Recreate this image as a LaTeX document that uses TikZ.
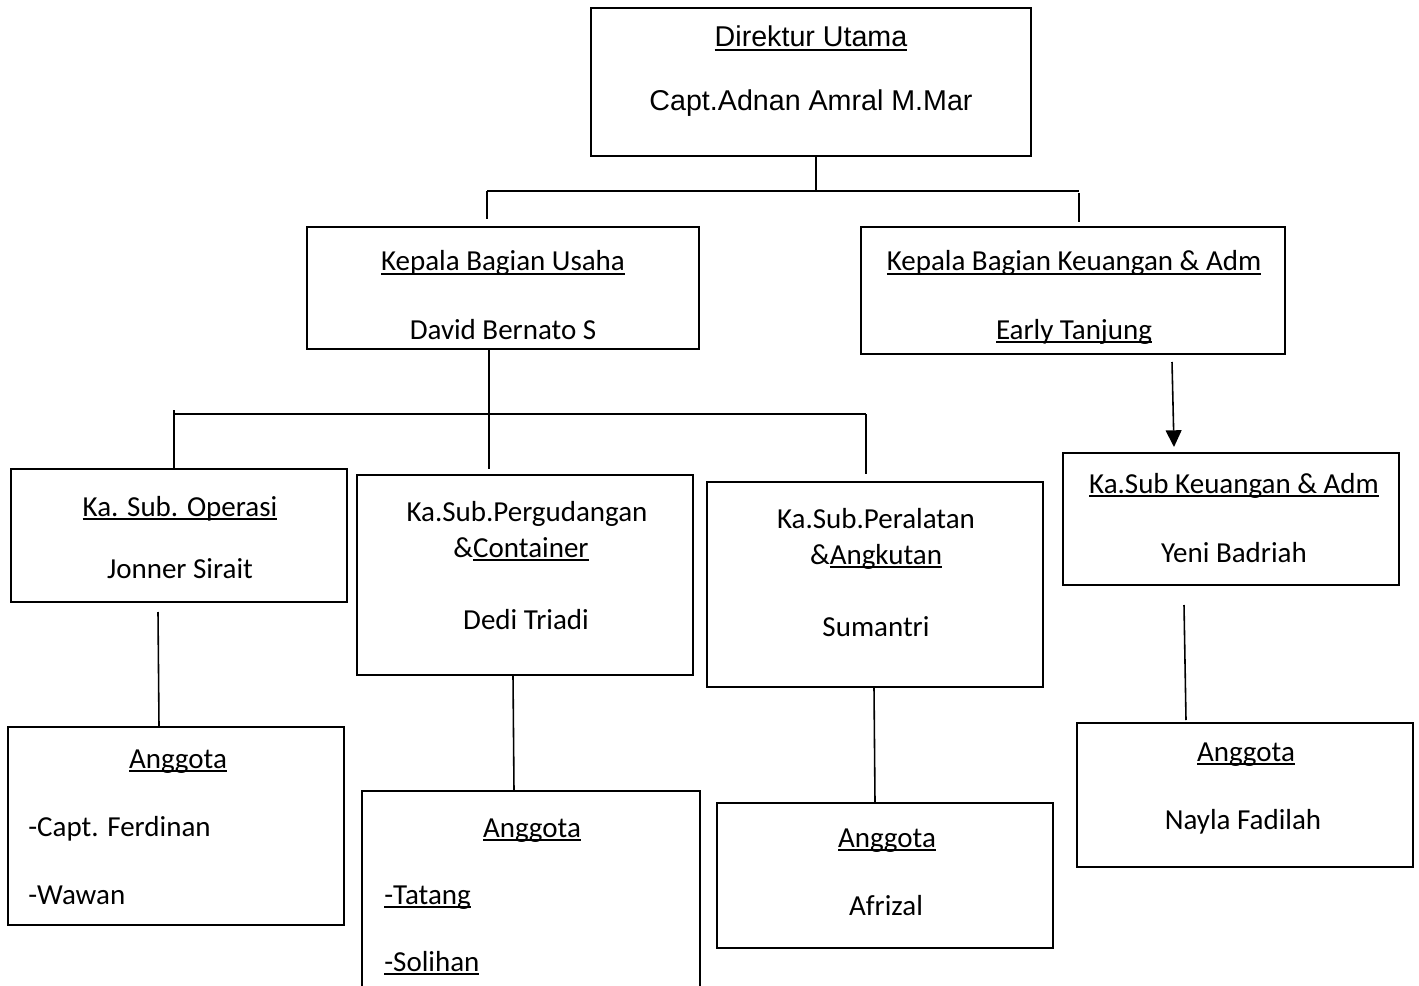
\documentclass[tikz,border=0pt]{standalone}
\usepackage{fontspec}
\setmainfont{Carlito}
\newfontfamily\arialfont{Liberation Sans}
\usetikzlibrary{arrows.meta}

% word-style underline, close to the baseline
\newcommand\wordul[1]{\setbox0\hbox{#1}\rlap{\rule[-2.4pt]{\wd0}{1pt}}\box0}

\tikzset{
  box/.style    = {shape=rectangle, draw, line width=1.1pt, inner sep=0pt,
                   minimum width=6.72cm},
  lbl/.style    = {inner sep=0pt, anchor=base,
                   font=\fontsize{16.5}{20}\selectfont},
  lblleft/.style= {lbl, anchor=base west},
  link/.style   = {draw, line width=0.9pt},
  headlbl/.style= {lbl, font=\arialfont\fontsize{16.3}{20}\selectfont}
}

\begin{document}
\begin{tikzpicture}[x=0.02cm, y=-0.02cm]
\useasboundingbox (0,0) rectangle (1419,986);

% boxes
\node[box, minimum width=8.8cm, minimum height=2.96cm] (dirut) at (811,82) {};
\node[box, minimum width=7.84cm, minimum height=2.44cm] (usaha) at (503,288) {};
\node[box, minimum width=8.48cm, minimum height=2.54cm] (keu) at (1073,290.5) {};
\node[box, minimum height=2.66cm] (operasi) at (179,535.5) {};
\node[box, minimum height=4cm] (gudang) at (525,575) {};
\node[box, minimum height=4.1cm] (alat) at (875,584.5) {};
\node[box, minimum height=2.64cm] (subkeu) at (1231,519) {};
\node[box, minimum height=3.96cm] (aoperasi) at (176,826) {};
\node[box, draw=none, minimum height=4.16cm] (agudang) at (531,896) {};
\node[box, minimum height=2.9cm] (aalat) at (885,875.5) {};
\node[box, minimum height=2.88cm] (asubkeu) at (1245,795) {};
\draw[line width=1.1pt] (agudang.south west) |- (agudang.north east) -- (agudang.south east);

% texts
\node[headlbl] (t1) at (811,47) {\wordul{Direktur Utama}};
\node[headlbl] (t2) at (811,111) {Capt.Adnan Amral M.Mar};

\node[lbl] (t3) at (503,271) {\wordul{Kepala Bagian Usaha}};
\node[lbl] (t4) at (503,339) {David Bernato S};
\node[lbl] (t5) at (1074,271) {\wordul{Kepala Bagian Keuangan \& Adm}};
\node[lbl] (t6) at (1074,339) {\wordul{Early Tanjung}};

\node[lbl] (t7) at (180,516) {\wordul{Ka. Sub. Operasi}};
\node[lbl] (t8) at (180,578) {Jonner Sirait};
\node[lbl] (t9) at (527,521) {Ka.Sub.Pergudangan};
\node[lbl] (t10) at (521,557) {\&\wordul{Container}};
\node[lbl] (t11) at (526,629) {Dedi Triadi};
\node[lbl] (t12) at (876,528) {Ka.Sub.Peralatan};
\node[lbl] (t13) at (876,564) {\&\wordul{Angkutan}};
\node[lbl] (t14) at (876,636) {Sumantri};
\node[lbl] (t15) at (1234,493) {\wordul{Ka.Sub Keuangan \& Adm}};
\node[lbl] (t16) at (1234,562) {Yeni Badriah};

\node[lbl] (t17) at (178,768) {\wordul{Anggota}};
\node[lblleft] (t18) at (28,836) {-Capt. Ferdinan};
\node[lblleft] (t19) at (28,904) {-Wawan};
\node[lbl] (t20) at (532,837) {\wordul{Anggota}};
\node[lblleft] (t21) at (384,904) {\wordul{-Tatang}};
\node[lblleft] (t22) at (384,971) {\wordul{-Solihan}};
\node[lbl] (t23) at (887,847) {\wordul{Anggota}};
\node[lbl] (t24) at (886,915) {Afrizal};
\node[lbl] (t25) at (1246,761) {\wordul{Anggota}};
\node[lbl] (t26) at (1243,829) {Nayla Fadilah};

% connector points
\coordinate (top) at (816,156);
\coordinate (topbar) at (816,191);
\coordinate (topl) at (487,191);
\coordinate (topr) at (1079,191);
\coordinate (topldown) at (487,219);
\coordinate (toprtop) at (1079,193);
\coordinate (toprdown) at (1079,222);
\coordinate (midtop) at (489,349);
\coordinate (middown) at (489,469);
\coordinate (midl) at (174,414);
\coordinate (midltop) at (174,410);
\coordinate (midr) at (866,414);
\coordinate (midrdown) at (866,474);
\coordinate (arrtop) at (1172,362);
\coordinate (arrend) at (1174,447);
\coordinate (v1a) at (158,612);
\coordinate (v2a) at (513,676);
\coordinate (v2b) at (514,791);
\coordinate (v3a) at (874,688);
\coordinate (v3b) at (875,802);
\coordinate (v4a) at (1184,605);
\coordinate (v4b) at (1186,720);

% connectors
\draw[link] (top) -- (topbar);
\draw[link] (topl) -- (topr);
\draw[link] (topl) -- (topldown);
\draw[link] (toprtop) -- (toprdown);
\draw[link] (midtop) -- (middown);
\draw[link] (midl) -- (midr);
\draw[link] (midltop) -- (midltop |- operasi.north);
\draw[link] (midr) -- (midrdown);
\draw[link, -{Triangle[length=9.5pt, width=9pt]}] (arrtop) -- (arrend);
\draw[link] (v1a) -- (aoperasi.north -| 159,0);
\draw[link] (v2a) -- (v2b);
\draw[link] (v3a) -- (v3b);
\draw[link] (v4a) -- (v4b);
\end{tikzpicture}
\end{document}
